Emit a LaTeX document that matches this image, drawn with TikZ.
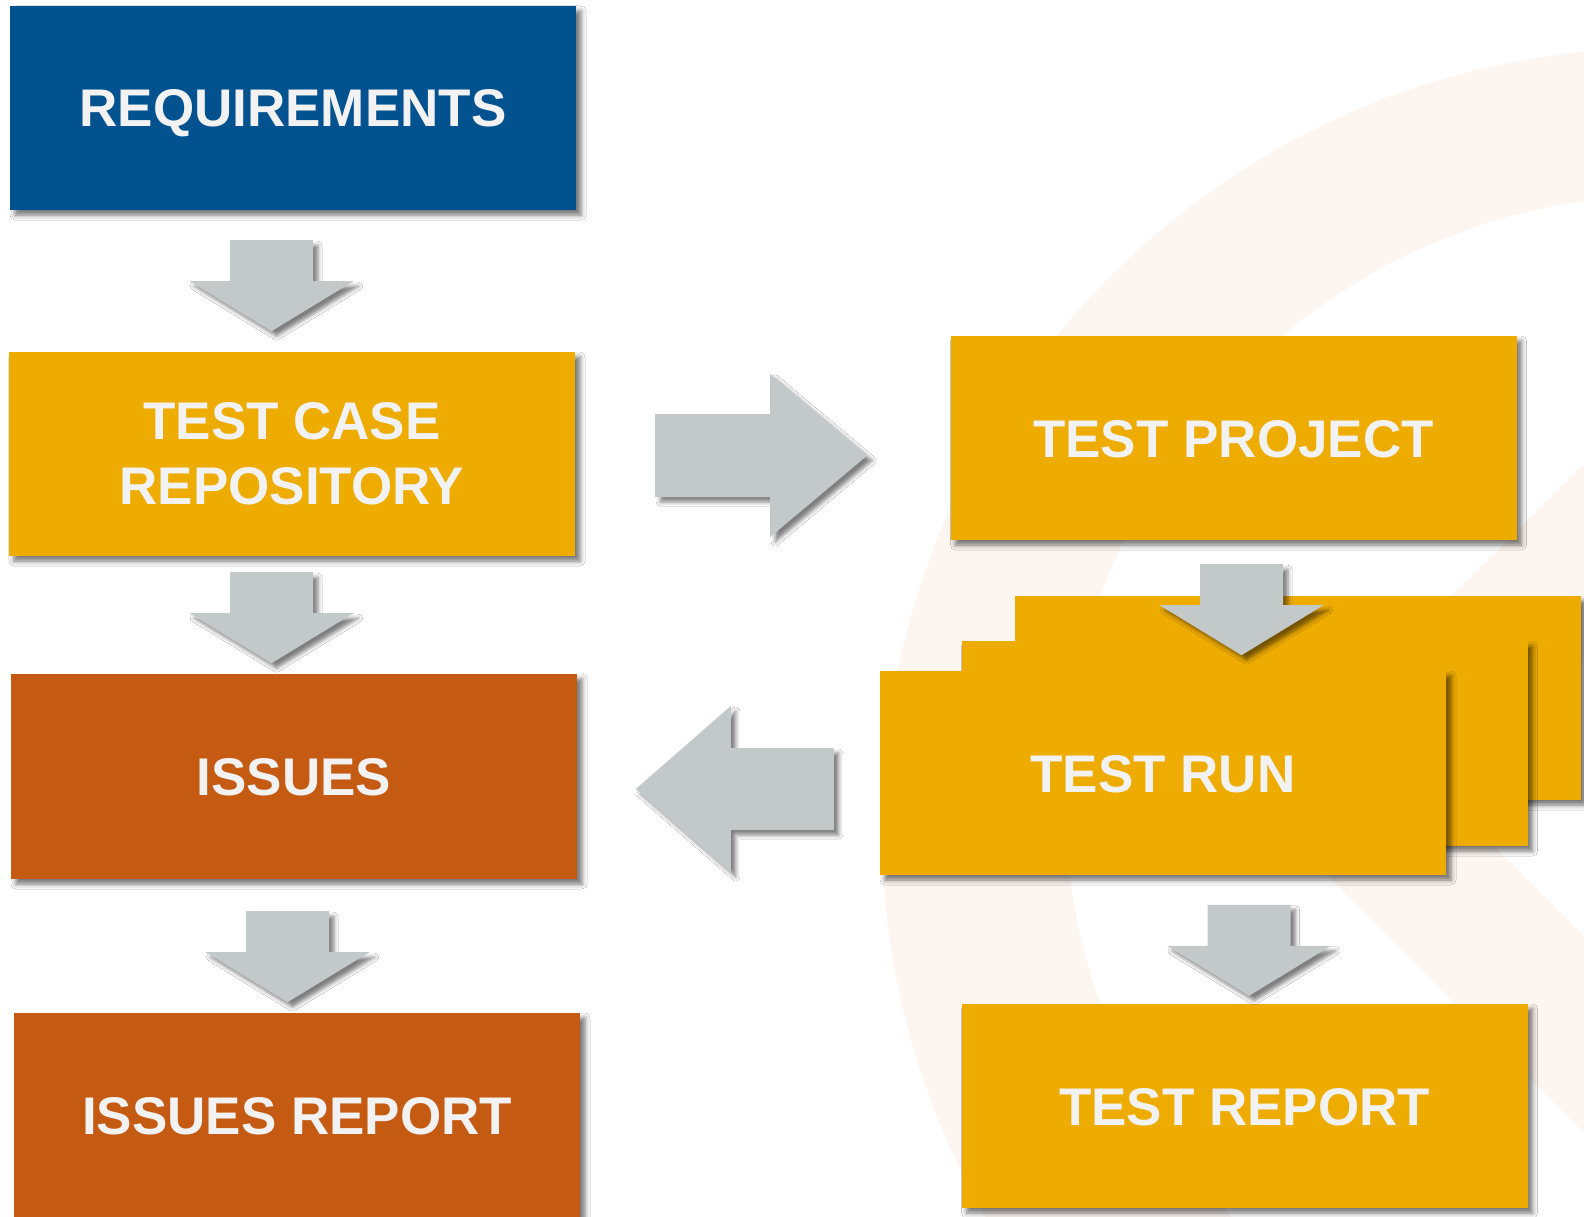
\documentclass[tikz,border=0pt]{standalone}
\usepackage{fontspec}
\setmainfont{Liberation Sans}
\usetikzlibrary{calc,shadows.blur}
\definecolor{reqblue}{RGB}{2,82,143}
\definecolor{testyellow}{RGB}{238,171,0}
\definecolor{issueorange}{RGB}{197,90,18}
\definecolor{arrowgray}{RGB}{195,200,200}
\definecolor{txtwhite}{RGB}{242,242,242}
\definecolor{bgtint}{RGB}{253,245,240}
\tikzset{
  boxshadow/.style={blur shadow={shadow xshift=5pt, shadow yshift=-5pt, shadow blur radius=5pt, shadow opacity=55}},
  stepbox/.style={rectangle, minimum width=566pt, minimum height=204pt, inner sep=0pt,
    text=txtwhite, align=center, boxshadow, text height=38pt, text depth=0pt,
    font=\fontsize{53}{65}\selectfont\bfseries},
  twoline/.style={text height=, text depth=},
  arrowfill/.style={fill=arrowgray, blur shadow={shadow xshift=5pt, shadow yshift=-5pt, shadow blur radius=4pt, shadow opacity=50}},
  downarr/.pic={\path[arrowfill] (-41.5,0) -- (41.5,0) -- (41.5,41) -- (82,41) -- (0,91) -- (-82,41) -- (-41.5,41) -- cycle;},
  rightarr/.pic={\path[arrowfill] (0,-41.5) -- (115,-41.5) -- (115,-81.5) -- (212,0) -- (115,81.5) -- (115,41.5) -- (0,41.5) -- cycle;},
  leftarr/.pic={\path[arrowfill] (0,-41) -- (-103,-41) -- (-103,-83) -- (-198,0) -- (-103,83) -- (-103,41) -- (0,41) -- cycle;}
}
\begin{document}
\begin{tikzpicture}[x=1pt,y=-1pt]
\useasboundingbox (0,0) rectangle (1584,1217);
\clip (0,0) rectangle (1584,1217);
\fill[white] (0,0) rectangle (1584,1217);
% faint background logo
\fill[bgtint, even odd rule] (1662,828) circle[radius=780pt] (1670,800) circle[radius=605pt];
\fill[bgtint] (1250,798) -- (1620,428) -- (1620,624) -- (1445,798) -- (1620,973) -- (1620,1169) -- cycle;
% left column
\node[stepbox, fill=reqblue] (req) at (293,108) {REQUIREMENTS};
\node[stepbox, twoline, fill=testyellow] (tcr) at (292,454) {TEST CASE\\REPOSITORY};
\node[stepbox, fill=issueorange, minimum height=205pt] (iss) at (294,776.5) {ISSUES};
\node[stepbox, fill=issueorange] (irep) at (297,1115) {ISSUES REPORT};
% right column
\node[stepbox, fill=testyellow] (tp) at (1233.5,438) {TEST PROJECT};
\node[stepbox, fill=testyellow] (trback) at (1298,698) {};
\node[stepbox, fill=testyellow, minimum height=205pt] (trmid) at (1244.5,743.5) {};
\node[stepbox, fill=testyellow] (tr) at (1163,773) {TEST RUN};
\node[stepbox, fill=testyellow] (trep) at (1244.5,1106) {TEST REPORT};
% connectors
\pic at ($(req.south)+(-21.5,30)$) {downarr};
\pic at ($(tcr.south)+(-20.5,16)$) {downarr};
\pic at ($(iss.south)+(-6.5,32)$) {downarr};
\pic at ($(tp.south)+(8,24)$) {downarr};
\pic at ($(trep.north)+(4.5,-99)$) {downarr};
\pic at ($(tcr.east)+(80,1.5)$) {rightarr};
\pic at ($(tr.west)+(-46,16)$) {leftarr};
\end{tikzpicture}
\end{document}
